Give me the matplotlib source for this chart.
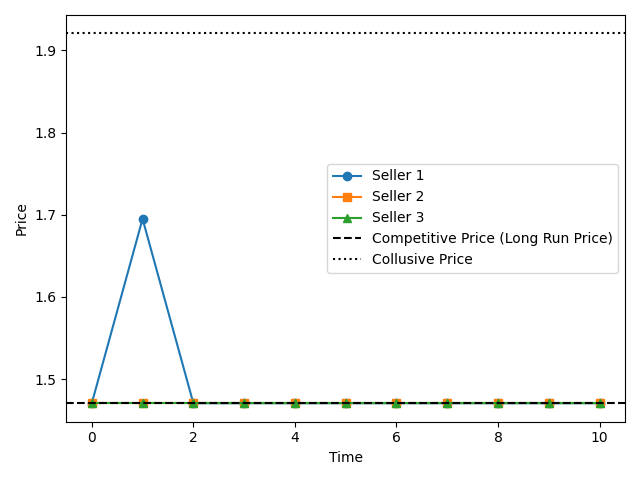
import numpy as np
import matplotlib
matplotlib.use("Agg")
import matplotlib.pyplot as plt

# price paths
time = list(range(11))
seller1 = [1.4706, 1.6950, 1.4706, 1.4706, 1.4706, 1.4706, 1.4706, 1.4706, 1.4706, 1.4706, 1.4706]
seller2 = [1.4706] * 11
seller3 = [1.4706] * 11
competitive_price = 1.4706
collusive_price = 1.9206

fig, ax = plt.subplots(figsize=(6.4, 4.8))
ax.plot(time, seller1, marker="o", label="Seller 1")
ax.plot(time, seller2, marker="s", label="Seller 2")
ax.plot(time, seller3, marker="^", label="Seller 3")
ax.axhline(competitive_price, color="black", linestyle="--", label="Competitive Price (Long Run Price)")
ax.axhline(collusive_price, color="black", linestyle=":", label="Collusive Price")
ax.set_xlabel("Time")
ax.set_ylabel("Price")
ax.legend()
plt.tight_layout()
plt.savefig("out.png", dpi=100)
